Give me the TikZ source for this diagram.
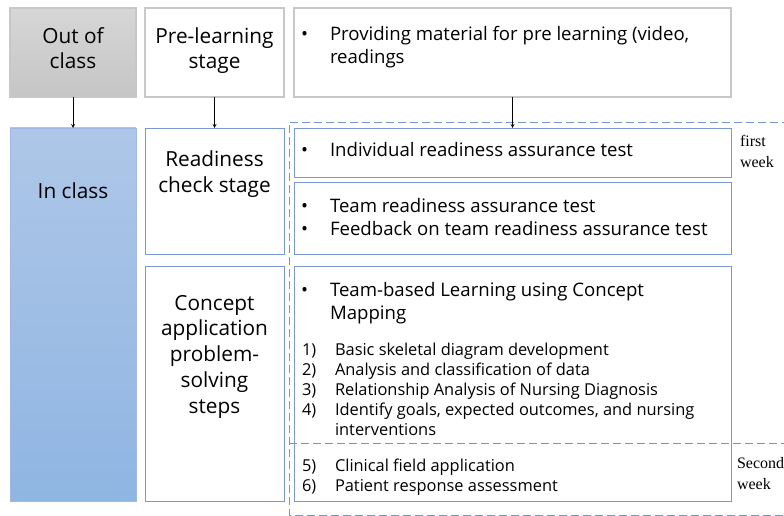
\documentclass[tikz,border=0pt]{standalone}
\usepackage{fontspec}
\setmainfont{Open Sans}
\newfontfamily\weekfont{Liberation Serif}
\definecolor{gline}{RGB}{200,200,200}
\definecolor{bline}{RGB}{122,152,214}
\definecolor{dline}{RGB}{118,148,205}

\begin{document}
\begin{tikzpicture}
[x=1pt,y=-1pt,line width=0.8pt,%
  every node/.style={inner sep=0pt,outer sep=0pt},%
  gbox/.style={draw=gline,line width=1.2pt,fill=white},%
  bbox/.style={draw=bline,fill=white},%
  big/.style={align=center,anchor=base,font=\fontsize{20.8}{25}\selectfont},%
  txt/.style={align=left,anchor=base west,font=\fontsize{18.6}{23}\selectfont},%
  lst/.style={align=left,anchor=base west,font=\fontsize{16.4}{20}\selectfont},%
  wk/.style={align=left,anchor=base west,font=\weekfont\fontsize{16}{20.5}\selectfont},%
  zone/.style={draw=dline,dash pattern=on 8pt off 4pt}]
\useasboundingbox (0,0) rectangle (784,516);
\node[gbox,top color=gray!32,bottom color=gray!45] (out) at (73,52.5) [minimum width=126pt,minimum height=89pt] {};
\node[gbox,minimum width=139pt,minimum height=89pt] (pre) at (214.5,52.5) {};
\node[gbox,minimum width=437pt,minimum height=89pt] (mat) at (512.5,52.5) {};
\node[draw=bline!70,top color={rgb,255:red,174;green,199;blue,232},bottom color={rgb,255:red,143;green,181;blue,226},minimum width=126pt,minimum height=373pt] (inclass) at (73,314.5) {};
\node[bbox,minimum width=139pt,minimum height=126pt] (ready) at (214.5,191) {};
\node[bbox,minimum width=139pt,minimum height=235pt] (concept) at (214.5,383.5) {};
\node[bbox,minimum width=437pt,minimum height=49pt] (irat) at (512.5,152.5) {};
\node[bbox,minimum width=437pt,minimum height=72pt] (trat) at (512.5,218) {};
\node[bbox,minimum width=437pt,minimum height=235pt] (tbl) at (512.5,383.5) {};
\draw[zone] (790,122) -- (289,122) -- (289,515) -- (790,515);
\draw[zone] (289,443) -- (790,443);
\draw[->,>=stealth] (out) -- (inclass);
\draw[->,>=stealth] (pre) -- (ready);
\draw[->,>=stealth] (mat) -- (irat);
\node[big] (outtxt) at (73,69) {Out of\\class};
\node[big] (pretxt) at (214.5,69) {Pre-learning\\stage};
\node[big] (intxt) at (73,198) {In class};
\node[big,font=\fontsize{20.8}{25.7}\selectfont] (readytxt) at (214.5,192) {Readiness\\check stage};
\node[big,font=\fontsize{20.8}{25.7}\selectfont] (concepttxt) at (214.5,413) {Concept\\application\\problem-\\solving\\steps};
\node[txt] (b1) at (301,41) {\textbullet};
\node[txt] (mattxt) at (330,64) {Providing material for pre learning (video,\\readings};
\node[txt] (b2) at (301,157) {\textbullet};
\node[txt] (irattxt) at (330,157) {Individual readiness assurance test};
\node[txt] (b3) at (301,235) {\textbullet\\\textbullet};
\node[txt] (trattxt) at (330,235) {Team readiness assurance test\\Feedback on team readiness assurance test};
\node[txt] (b4) at (301,296) {\textbullet};
\node[txt] (tbltxt) at (330,319) {Team-based Learning using Concept\\Mapping};
\node[lst] (num1) at (302,415) {1)\\2)\\3)\\4)};
\node[lst] (steps1) at (335,435) {Basic skeletal diagram development\\Analysis and classification of data\\Relationship Analysis of Nursing Diagnosis\\Identify goals, expected outcomes, and nursing\\interventions};
\node[lst] (num2) at (302,491) {5)\\6)};
\node[lst] (steps2) at (335,491) {Clinical field application\\Patient response assessment};
\node[wk] (week1) at (740,167) {first\\week};
\node[wk] (week2) at (737,489) {Second\\week};
\end{tikzpicture}
\end{document}
